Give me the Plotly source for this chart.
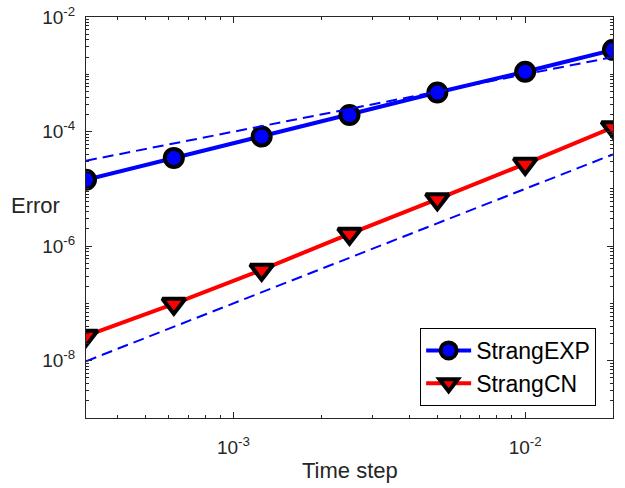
import plotly.graph_objects as go

# ---- data ----
time_step = [0.0003125, 0.000625, 0.00125, 0.0025, 0.005, 0.01, 0.02]
strang_exp = [1.44e-5, 3.47e-5, 8.18e-5, 1.95e-4, 4.80e-4, 1.11e-3, 2.67e-3]
strang_cn = [2.72e-8, 9.84e-8, 3.86e-7, 1.64e-6, 6.61e-6, 2.73e-5, 1.19e-4]

ref_x = [0.0003125, 0.02]
ref_order1 = [3.1e-5, 2.0e-3]
ref_order2 = [9.8e-9, 4.0e-5]

x_tickvals = [1e-3, 1e-2]
x_ticktext = ["10<sup>-3</sup>", "10<sup>-2</sup>"]
y_tickvals = [1e-8, 1e-6, 1e-4, 1e-2]
y_ticktext = ["10<sup>-8</sup>", "10<sup>-6</sup>", "10<sup>-4</sup>", "10<sup>-2</sup>"]

FONT = "Liberation Sans, Arial, sans-serif"
AX = "#262626"
XR = [-3.50515, -1.69897]
YR = [-9, -2]

fig = go.Figure()
fig.add_trace(go.Scatter(
    x=time_step, y=strang_exp, name="StrangEXP", mode="lines+markers",
    line=dict(color="#0000ff", width=4),
    marker=dict(symbol="circle", size=18, color="#0000ff",
                line=dict(color="black", width=4)),
))
fig.add_trace(go.Scatter(
    x=time_step, y=strang_cn, name="StrangCN", mode="lines+markers",
    line=dict(color="#ff0000", width=4),
    marker=dict(symbol="triangle-down", size=20, color="#ff0000",
                line=dict(color="black", width=4)),
))
fig.add_trace(go.Scatter(
    x=ref_x, y=ref_order1, mode="lines", showlegend=False,
    line=dict(color="#0000ff", width=2, dash="11px,6px"),
))
fig.add_trace(go.Scatter(
    x=ref_x, y=ref_order2, mode="lines", showlegend=False,
    line=dict(color="#0000ff", width=2, dash="11px,6px"),
))
# invisible trace so the minor-tick overlay axes are drawn
fig.add_trace(go.Scatter(
    x=[ref_x[0]], y=[ref_order2[0]], xaxis="x2", yaxis="y2", mode="markers",
    marker=dict(opacity=0), showlegend=False, hoverinfo="skip",
))

minor_x = [m * 10.0 ** e for e in (-4, -3, -2) for m in range(2, 10)]
minor_y = [m * 10.0 ** e for e in range(-9, -2) for m in range(1, 10)]

common = dict(
    type="log", showgrid=False, zeroline=False, automargin=False,
    ticks="inside", tickcolor=AX, tickwidth=1,
    tickfont=dict(family=FONT, size=19, color=AX),
)

fig.update_layout(
    xaxis=dict(range=XR, tickmode="array", tickvals=x_tickvals,
               ticktext=x_ticktext, ticklabelstandoff=12, ticklen=6,
               showline=True, linecolor=AX, linewidth=1, mirror="ticks",
               **common),
    yaxis=dict(range=YR, tickmode="array", tickvals=y_tickvals,
               ticktext=y_ticktext, ticklabelstandoff=6, ticklen=6,
               showline=True, linecolor=AX, linewidth=1, mirror="ticks",
               **common),
    xaxis2=dict(range=XR, overlaying="x", anchor="y", side="bottom",
                tickmode="array", tickvals=minor_x, ticklen=3,
                showticklabels=False, showline=False, mirror="ticks",
                **common),
    yaxis2=dict(range=YR, overlaying="y", anchor="x", side="left",
                tickmode="array", tickvals=minor_y, ticklen=3,
                showticklabels=False, showline=False, mirror="ticks",
                **common),
)

fig.add_annotation(text="Time step", xref="paper", yref="paper",
                   x=0.5, y=-0.13, xanchor="center", yanchor="middle",
                   showarrow=False, font=dict(family=FONT, size=22, color=AX))
fig.add_annotation(text="Error", xref="paper", yref="paper",
                   x=-0.045, y=0.531, xanchor="right", yanchor="middle",
                   showarrow=False, font=dict(family=FONT, size=22, color=AX))

fig.update_layout(
    width=625, height=488, autosize=False,
    margin=dict(l=86, r=12, t=17, b=70),
    paper_bgcolor="white", plot_bgcolor="white",
    legend=dict(
        x=0.968, y=0.03, xanchor="right", yanchor="bottom",
        bgcolor="white", bordercolor="black", borderwidth=1,
        font=dict(family=FONT, size=23, color="black"),
        itemwidth=45, tracegroupgap=0,
    ),
)

fig.write_html("out.html",
               config={"displayModeBar": False},
               post_script="document.body.style.margin='0';")
